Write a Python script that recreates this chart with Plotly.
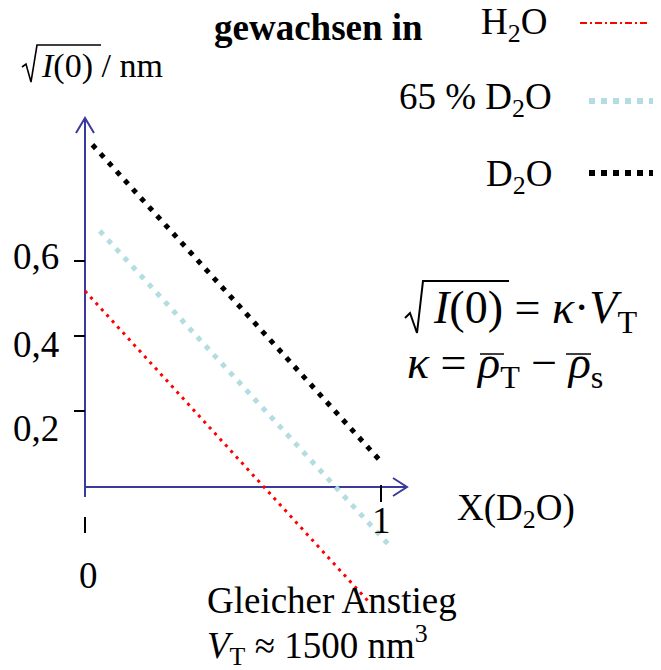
import plotly.graph_objects as go

# ---------------- data ----------------
series_names = ["H2O", "65 % D2O", "D2O"]
x_h2o = [0.0, 0.96]
y_h2o = [0.52, -0.31]
x_d65 = [0.05, 1.03]
y_d65 = [0.68, -0.16]
x_d2o = [0.025, 1.0]
y_d2o = [0.91, 0.065]

ytick_vals = [0.6, 0.4, 0.2]
ytick_text = ["0,6", "0,4", "0,2"]
xtick_vals = [0, 1]
xtick_text = ["0", "1"]

# ---------------- geometry / style ----------------
PAGE_W, PAGE_H = 661, 670
OFF = 8                          # page body margin
FIG_W, FIG_H = PAGE_W - OFF, PAGE_H - OFF
X0_PX, XU = 85, 296              # page pixel of x=0 and pixels per unit
Y0_PX, YU = 486, 375             # page pixel of y=0 and pixels per unit


def dx(p):
    return (p - X0_PX) / XU


def dy(p):
    return (Y0_PX - p) / YU


def px(x):
    return (x - OFF) / FIG_W


def py(y):
    return 1 - (y - OFF) / FIG_H


x_range = [dx(OFF), dx(PAGE_W)]
y_range = [dy(PAGE_H), dy(OFF)]

FONT = "Liberation Serif"
FS = 37
AXIS_BLUE = "#3A3A9C"
RED = "#FF0000"
LBLUE = "#B3DDE0"
BLACK = "#000000"

fig = go.Figure()

# axes (blue arrows)
fig.add_trace(go.Scatter(x=[dx(85), dx(85)], y=[dy(497), dy(118)], mode="lines",
                         line=dict(color=AXIS_BLUE, width=2), hoverinfo="skip"))
fig.add_trace(go.Scatter(x=[dx(76), dx(85), dx(94)], y=[dy(133), dy(118), dy(133)], mode="lines",
                         line=dict(color=AXIS_BLUE, width=2), hoverinfo="skip"))
fig.add_trace(go.Scatter(x=[dx(85), dx(407)], y=[dy(487), dy(487)], mode="lines",
                         line=dict(color=AXIS_BLUE, width=2), hoverinfo="skip"))
fig.add_trace(go.Scatter(x=[dx(393), dx(407), dx(393)], y=[dy(478), dy(487), dy(496)], mode="lines",
                         line=dict(color=AXIS_BLUE, width=2), hoverinfo="skip"))

# x tick marks
fig.add_trace(go.Scatter(x=[xtick_vals[0], xtick_vals[0]], y=[dy(517), dy(533)], mode="lines",
                         line=dict(color=BLACK, width=2), hoverinfo="skip"))
fig.add_trace(go.Scatter(x=[xtick_vals[1], xtick_vals[1]], y=[dy(485), dy(502)], mode="lines",
                         line=dict(color=BLACK, width=2), hoverinfo="skip"))

# data lines
fig.add_trace(go.Scatter(x=x_h2o, y=y_h2o, mode="lines", name=series_names[0],
                         line=dict(color=RED, width=3, dash="3px,5px")))
fig.add_trace(go.Scatter(x=x_d65, y=y_d65, mode="lines", name=series_names[1],
                         line=dict(color=LBLUE, width=5, dash="5px,7px")))
fig.add_trace(go.Scatter(x=x_d2o, y=y_d2o, mode="lines", name=series_names[2],
                         line=dict(color=BLACK, width=5, dash="5px,7px")))

annotations = []


def add_text(text, x, y, xanchor="center", size=FS, yanchor="middle"):
    annotations.append(dict(text=text, x=px(x), y=py(y), xref="paper", yref="paper",
                            xanchor=xanchor, yanchor=yanchor, showarrow=False,
                            font=dict(family=FONT, size=size, color=BLACK)))


# tick labels
ylabel_py = [256, 344, 428]
for t, yy in zip(ytick_text, ylabel_py):
    add_text(t, 61, yy, xanchor="right")
add_text(xtick_text[0], 88, 575)
add_text(xtick_text[1], 381, 520)

# titles / legend text
add_text("<b>gewachsen in</b>", 318, 28)
add_text("H<sub>2</sub>O", 514, 24)
add_text("65 % D<sub>2</sub>O", 554, 100, xanchor="right")
add_text("D<sub>2</sub>O", 554, 176, xanchor="right")
add_text("X(D<sub>2</sub>O)", 455, 511, xanchor="left")
add_text("<i>I</i>(0) / nm", 39, 66, xanchor="left", size=34)
add_text("Gleicher Anstieg", 205, 600, xanchor="left")
add_text("<i>V</i><sub>T</sub> ≈ 1500 nm<sup>3</sup>", 205, 645, xanchor="left")

# equations
add_text("<i>I</i>(0) = <i>κ</i>·<i>V</i><sub>T</sub>", 431, 311, xanchor="left", size=46)
add_text("<i>κ</i> = <i>ρ</i><sub>T</sub> − <i>ρ</i><sub>s</sub>", 405, 366, xanchor="left", size=46)

shapes = []
# y tick marks
for v in ytick_vals:
    shapes.append(dict(type="line", xref="x", yref="y", x0=dx(74), x1=dx(85), y0=v, y1=v,
                       line=dict(color=BLACK, width=2)))


def hline(x0, x1, y, color=BLACK, width=1.5, dash="solid"):
    shapes.append(dict(type="line", xref="paper", yref="paper", x0=px(x0), x1=px(x1),
                       y0=py(y), y1=py(y), line=dict(color=color, width=width, dash=dash)))


def poly(points, width=2):
    path = "M " + " L ".join(f"{px(a):.5f},{py(b):.5f}" for a, b in points)
    shapes.append(dict(type="path", xref="paper", yref="paper", path=path,
                       line=dict(color=BLACK, width=width)))


# square-root signs with overlines
poly([(405, 318), (410, 313), (417, 333), (423, 281), (509, 281)], width=2)
poly([(22, 67), (26, 64), (31, 82), (37, 45), (101, 45)], width=1.6)
# overlines on rho
hline(480, 504, 354)
hline(566, 591, 354)

# legend samples
hline(580, 648, 23, color=RED, width=2, dash="7px,3px,2px,3px")
hline(589, 661, 101, color=LBLUE, width=6, dash="6px,6px")
hline(589, 661, 173, color=BLACK, width=6, dash="6px,6px")

fig.update_layout(
    width=FIG_W, height=FIG_H, margin=dict(l=0, r=0, t=0, b=0),
    paper_bgcolor="white", plot_bgcolor="white", showlegend=False,
    xaxis=dict(range=x_range, visible=False, fixedrange=True),
    yaxis=dict(range=y_range, visible=False, fixedrange=True),
    annotations=annotations, shapes=shapes,
)

fig.write_html("out.html")
